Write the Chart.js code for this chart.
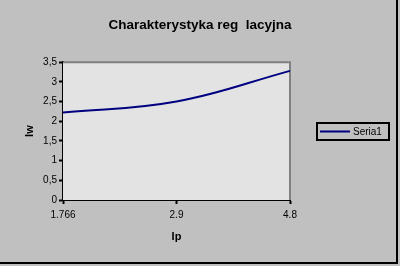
<!DOCTYPE html>
<html>
<head>
<meta charset="utf-8">
<script src="https://cdn.jsdelivr.net/npm/chart.js@4"></script>
<style>
  html, body { margin: 0; padding: 0; background: #c0c0c0; }
  #wrap { width: 400px; height: 266px; }
</style>
</head>
<body>
<div id="wrap"><canvas id="chart" width="400" height="266"></canvas></div>
<script>
// data
const categories = ['1.766', '2.9', '4.8'];
const seria1 = [2.22, 2.5, 3.28];
const yTicks = [0, 0.5, 1, 1.5, 2, 2.5, 3, 3.5];
const seriesName = 'Seria1';
const chartTitle = 'Charakterystyka reg  lacyjna';

// plot area background, gray top/right edges, legend box and outer frame
const excelLook = {
    id: 'excelLook',
    beforeDatasetsDraw(chart) {
        const { ctx, chartArea: a } = chart;
        ctx.save();
        ctx.fillStyle = '#e3e3e3';
        ctx.fillRect(a.left, a.top, a.right - a.left, a.bottom - a.top);
        ctx.strokeStyle = '#808080';
        ctx.lineWidth = 2;
        ctx.beginPath();
        ctx.moveTo(a.left, a.top);
        ctx.lineTo(a.right, a.top);
        ctx.lineTo(a.right, a.bottom);
        ctx.stroke();
        ctx.restore();
    },
    afterDraw(chart) {
        const { ctx } = chart;
        const ds = chart.data.datasets[0];
        ctx.save();
        // legend
        ctx.strokeStyle = '#000';
        ctx.lineWidth = 2;
        ctx.strokeRect(317, 123, 72, 17);
        ctx.strokeStyle = ds.borderColor;
        ctx.beginPath();
        ctx.moveTo(320, 131.5);
        ctx.lineTo(350, 131.5);
        ctx.stroke();
        ctx.fillStyle = '#000';
        ctx.font = '10px Arial, "Liberation Sans", sans-serif';
        ctx.textBaseline = 'middle';
        ctx.fillText(ds.label, 353, 132);
        // outer frame
        ctx.fillStyle = '#000';
        ctx.fillRect(396, 0, 2, 264);
        ctx.fillRect(0, 262, 398, 2);
        ctx.restore();
    }
};

const ctx = document.getElementById('chart').getContext('2d');
new Chart(ctx, {
    type: 'line',
    data: {
        labels: categories,
        datasets: [{
            label: seriesName,
            data: seria1,
            borderColor: '#000080',
            borderWidth: 2,
            pointRadius: 0,
            tension: 0.4,
            fill: false
        }]
    },
    options: {
        responsive: false,
        animation: false,
        layout: { padding: 0 },
        plugins: {
            legend: { display: false },
            tooltip: { enabled: false },
            title: {
                display: true,
                text: chartTitle,
                color: '#000',
                font: { family: 'Arial, "Liberation Sans", sans-serif', size: 13.5, weight: 'bold' },
                padding: { top: 17, bottom: 29 }
            }
        },
        scales: {
            x: {
                type: 'category',
                offset: false,
                afterFit(scale) { scale.height = 66; },
                grid: { drawOnChartArea: false, drawTicks: true, tickLength: 4, tickColor: '#000', tickWidth: 2 },
                border: { display: true, color: '#000', width: 2 },
                ticks: {
                    color: '#000',
                    padding: 5,
                    maxRotation: 0,
                    autoSkip: false,
                    font: { family: 'Arial, "Liberation Sans", sans-serif', size: 10 }
                },
                title: {
                    display: true,
                    text: 'Ip',
                    color: '#000',
                    font: { family: 'Arial, "Liberation Sans", sans-serif', size: 11, weight: 'bold' },
                    padding: { top: 0, bottom: 22 }
                }
            },
            y: {
                min: yTicks[0],
                max: yTicks[yTicks.length - 1],
                afterFit(scale) { scale.width = 63; },
                afterBuildTicks(scale) { scale.ticks = yTicks.map(v => ({ value: v })); },
                grid: { drawOnChartArea: false, drawTicks: true, tickLength: 4, tickColor: '#000', tickWidth: 2 },
                border: { display: true, color: '#000', width: 2 },
                ticks: {
                    color: '#000',
                    padding: 2,
                    font: { family: 'Arial, "Liberation Sans", sans-serif', size: 10 },
                    callback: v => String(v).replace('.', ',')
                },
                title: {
                    display: true,
                    text: 'Iw',
                    color: '#000',
                    font: { family: 'Arial, "Liberation Sans", sans-serif', size: 11, weight: 'bold' },
                    padding: { top: 23, bottom: 0 }
                }
            },
            // empty right-hand box that leaves room for the legend
            legendSpace: {
                type: 'linear',
                position: 'right',
                afterFit(scale) { scale.width = 110; },
                grid: { display: false },
                border: { display: false },
                ticks: { display: false }
            }
        }
    },
    plugins: [excelLook]
});
</script>
</body>
</html>
